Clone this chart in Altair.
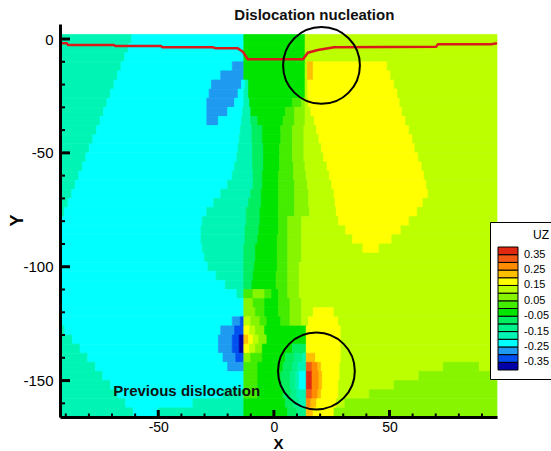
import altair as alt
import pandas as pd

# ---- colour levels (UZ contour bands) ----
LEVEL_VALUES = [-0.375, -0.325, -0.275, -0.225, -0.175, -0.125, -0.075, -0.025,
                0.025, 0.075, 0.125, 0.175, 0.225, 0.275, 0.325, 0.375]
LEVEL_COLORS = ["#0000A8", "#0050F0", "#1E9BF0", "#00FFFF", "#00F5B5", "#00F28A",
                "#00EE60", "#00E400", "#44EC00", "#88F500", "#BBFF00", "#FFFF00",
                "#FFBE00", "#FF8C00", "#F25A14", "#E02810"]

# ---- field: per row (centre y, 4 units tall), runs of (x start, level) ----
ROW_Y = [0, -4, -8, -12, -16, -20, -24, -28, -32, -36, -40, -44, -48, -52, -56, -60,
         -64, -68, -72, -76, -80, -84, -88, -92, -96, -100, -104, -108, -112, -116,
         -120, -124, -128, -132, -136, -140, -144, -148, -152, -156, -160, -164]
ROW_RUNS = [
    [(-92.5, 4), (-61.5, 3), (-13, 7), (13.5, 10)],
    [(-92.5, 4), (-63, 3), (-13, 7), (13.5, 10)],
    [(-92.5, 4), (-64.5, 3), (-13, 7), (13.5, 10)],
    [(-92.5, 4), (-66.1, 3), (-18, 2), (-13, 7), (13.5, 10), (14.5, 12), (17, 11), (49, 10)],
    [(-92.5, 4), (-67.6, 3), (-23, 2), (-13, 7), (13.5, 10), (14.5, 12), (17, 11), (50.5, 10)],
    [(-92.5, 4), (-69.1, 3), (-27, 2), (-14, 3), (-12.5, 4), (-11, 7), (13.5, 10), (14.7, 11), (52, 10)],
    [(-92.5, 4), (-70.7, 3), (-28, 2), (-15.5, 3), (-13, 4), (-11, 7), (13.5, 10), (14.7, 11), (53.5, 10)],
    [(-92.5, 4), (-72.2, 3), (-29, 2), (-17, 3), (-13, 4), (-10.5, 7), (8, 8), (12, 9), (13.5, 10), (15, 11), (54.5, 10)],
    [(-92.5, 4), (-73.7, 3), (-29, 2), (-20, 3), (-13.5, 4), (-10, 7), (5, 8), (9, 9), (13.5, 10), (16, 11), (55.5, 10)],
    [(-92.5, 4), (-75.2, 3), (-29, 2), (-24, 3), (-14, 4), (-10, 6), (-7, 7), (4, 8), (9, 9), (13.5, 10), (17.5, 11), (57, 10)],
    [(-92.5, 4), (-76.7, 3), (-14.5, 4), (-9.5, 6), (-5, 7), (3, 8), (8, 9), (13, 10), (18.5, 11), (58.5, 10)],
    [(-92.5, 4), (-78.3, 3), (-15, 4), (-9.5, 6), (-5, 7), (3, 8), (8, 9), (13, 10), (19.5, 11), (60, 10)],
    [(-92.5, 4), (-79.8, 3), (-15.5, 4), (-9.3, 6), (-4.5, 7), (2.5, 8), (8, 9), (13, 10), (20.5, 11), (61, 10)],
    [(-92.5, 4), (-81.3, 3), (-16, 4), (-9.3, 6), (-4.5, 7), (2.5, 8), (8, 9), (13, 10), (21.5, 11), (62.5, 10)],
    [(-92.5, 4), (-82.8, 3), (-17, 4), (-9.2, 6), (-4.5, 7), (2.5, 8), (8.5, 9), (13.5, 10), (23, 11), (64, 10)],
    [(-92.5, 4), (-84.4, 3), (-18, 4), (-9, 6), (-5, 7), (2, 8), (8.5, 9), (14, 10), (24, 11), (65, 10)],
    [(-92.5, 4), (-85.9, 3), (-20, 4), (-9, 6), (-5, 7), (2, 8), (9, 9), (14.5, 10), (25, 11), (66, 10)],
    [(-92.5, 4), (-87.4, 3), (-23, 4), (-10, 6), (-5.5, 7), (2, 8), (9, 9), (15, 10), (26, 11), (66.7, 10)],
    [(-92.5, 4), (-89, 3), (-26, 4), (-11, 6), (-5.5, 7), (2, 8), (9, 9), (15, 10), (26.5, 11), (64.5, 10)],
    [(-92.5, 4), (-90.5, 3), (-29, 4), (-12, 6), (-6, 7), (2, 8), (9, 9), (15.5, 10), (27, 11), (62, 10)],
    [(-92.5, 3), (-31, 4), (-12, 6), (-6, 7), (2, 8), (6, 9), (12, 10), (28, 11), (58.5, 10)],
    [(-92.5, 3), (-31.5, 4), (-12.5, 6), (-6.5, 7), (2, 8), (6, 9), (12, 10), (31, 11), (55, 10)],
    [(-92.5, 3), (-31.5, 4), (-12.5, 6), (-7, 7), (1.5, 8), (6, 9), (12, 10), (34, 11), (51, 10)],
    [(-92.5, 3), (-31, 4), (-13, 6), (-8, 7), (1.5, 8), (6, 9), (12, 10), (38.5, 11), (45.5, 10)],
    [(-92.5, 3), (-30, 4), (-13, 6), (-8, 7), (1.5, 8), (6, 9), (12, 10)],
    [(-92.5, 3), (-28.5, 4), (-13, 6), (-8.5, 7), (1.5, 8), (6, 9), (11, 10)],
    [(-92.5, 3), (-25, 4), (-13, 6), (-9, 7), (1, 8), (6, 9), (11, 10)],
    [(-92.5, 3), (-21, 4), (-13, 6), (-9.5, 7), (1, 8), (6, 9), (11, 10)],
    [(-92.5, 3), (-16, 4), (-13, 8), (-9, 9), (-4, 8), (-1, 7), (2, 8), (6, 9), (11, 10)],
    [(-92.5, 3), (-13, 9), (-9, 8), (-4, 7), (2, 8), (7, 9), (12, 10)],
    [(-92.5, 3), (-13, 9), (-8, 8), (-4, 7), (2, 8), (7, 9), (12, 10), (17, 11), (26, 10)],
    [(-92.5, 3), (-18, 2), (-14.5, 1), (-13, 10), (-10, 9), (-6, 8), (-3, 7), (3, 8), (7, 9), (12, 10), (15, 11), (28, 10)],
    [(-92.5, 4), (-90.4, 3), (-23, 2), (-17, 1), (-13, 11), (-10.5, 10), (-8, 9), (-4, 7), (14, 11), (29, 10)],
    [(-92.5, 4), (-87.1, 3), (-24, 2), (-18, 1), (-15, 0), (-13, 12), (-11, 11), (-9, 10), (-6.5, 9), (-3, 7), (14, 11), (29, 10)],
    [(-92.5, 4), (-83.8, 3), (-24, 2), (-18, 1), (-15, 0), (-13, 11), (-10.5, 10), (-8, 9), (-5, 7), (8, 6), (14, 11), (29, 10)],
    [(-92.5, 4), (-80.5, 3), (-22, 2), (-16.5, 1), (-13, 9), (-10, 8), (-5, 7), (5, 6), (9, 5), (12.5, 4), (14, 12), (18, 11), (29, 10)],
    [(-92.5, 4), (-77.2, 3), (-20, 2), (-13, 8), (-7, 7), (4, 6), (8, 5), (10.5, 4), (14, 14), (16.5, 13), (19, 12), (20.5, 11), (28.5, 10), (73.3, 9), (88.8, 10)],
    [(-92.5, 4), (-74, 3), (-13, 8), (-7, 7), (3, 6), (7, 5), (9.5, 4), (11, 3), (14, 15), (16.5, 13), (19.5, 12), (21, 11), (28.5, 10), (62.7, 9), (93.6, 10)],
    [(-92.5, 4), (-70.7, 3), (-13, 8), (-7, 7), (3, 6), (7, 5), (9.5, 4), (11, 3), (14, 15), (16.5, 13), (19.5, 12), (21, 11), (28, 10), (52, 9)],
    [(-92.5, 4), (-67.4, 3), (-22, 4), (-13, 8), (-7, 7), (4, 6), (7.5, 5), (10, 4), (14, 14), (16.5, 13), (19, 12), (20.5, 11), (28, 10), (41.3, 9)],
    [(-92.5, 4), (-64.1, 3), (-35, 4), (-13, 7), (5, 6), (8.5, 5), (11, 4), (14, 13), (16, 12), (18.5, 11), (27, 10), (30.7, 9)],
    [(-92.5, 4), (-60.8, 3), (-50, 4), (-13, 7), (6, 6), (10, 5), (14, 12), (17, 11), (26, 9)],
]
X_MIN, X_MAX = -92.5, 96.5
Y_MIN, Y_MAX = -166, 6.6
ROW_HALF = 2

# ---- free surface (red line) ----
SURF_X = [-92.5, -89.5, -89, -69.3, -68.4, -48.9, -48.1, -26.4, -25.1, -15.6, -13.4,
          -11.3, 12.6, 14.7, 19, 26, 70.1, 71, 94, 96.5]
SURF_Y = [-1.9, -1.9, -2.6, -2.6, -3.1, -3.1, -3.6, -3.6, -4.1, -4.1, -5.6,
          -8.9, -8.9, -6.0, -4.8, -3.6, -3.4, -2.3, -2.3, -1.9]

# ---- annotations ----
CIRCLE_X = [20.6, 18.4]
CIRCLE_Y = [-11.6, -145.8]
NOTE_TEXT = ["Dislocation nucleation", "Previous dislocation"]
NOTE_X = [17.5, -37.7]
NOTE_Y = [10.5, -154.8]

# ---- inward ticks ----
X_MAJOR = [-50, 0, 50]
X_MINOR = [-90, -80, -70, -60, -40, -30, -20, -10, 10, 20, 30, 40, 60, 70, 80, 90]
Y_MAJOR = [0, -50, -100, -150]
Y_MINOR = [-10, -20, -30, -40, -60, -70, -80, -90, -110, -120, -130, -140, -160]

W, H = 437, 393

recs = []
for yc, runs in zip(ROW_Y, ROW_RUNS):
    for k, (x0, lvl) in enumerate(runs):
        x1 = runs[k + 1][0] if k + 1 < len(runs) else X_MAX
        recs.append({"x": x0, "x2": x1, "y": yc + ROW_HALF, "y2": yc - ROW_HALF,
                     "v": LEVEL_VALUES[lvl]})
field_df = pd.DataFrame(recs)
surf_df = pd.DataFrame({"x": SURF_X, "y": SURF_Y, "i": list(range(len(SURF_X)))})
circ_df = pd.DataFrame({"x": CIRCLE_X, "y": CIRCLE_Y})
note_df = pd.DataFrame({"x": NOTE_X, "y": NOTE_Y, "t": NOTE_TEXT})

xs = alt.Scale(domain=[X_MIN, X_MAX], nice=False, zero=False)
ys = alt.Scale(domain=[Y_MIN, Y_MAX], nice=False, zero=False)
cscale = alt.Scale(type="quantize", domain=[-0.4, 0.4], range=LEVEL_COLORS, nice=False, zero=False)

FONT = "Liberation Sans"

xaxis = alt.Axis(values=X_MAJOR, labelExpr="datum.value + ''", ticks=False, tickSize=0,
                 labelPadding=3, labelFontSize=14, grid=False, zindex=1, title="X",
                 titleX=218, titleY=26.5,
                 titleBaseline="middle", titleAlign="center", titleFontSize=15)
yaxis = alt.Axis(values=Y_MAJOR, labelExpr="datum.value + ''", ticks=False, tickSize=0,
                 labelPadding=7, grid=False, zindex=1, title="Y", titleX=-43, titleY=196,
                 titleBaseline="middle", titleAlign="center", titleAngle=-90, titleFontSize=18)

legend = alt.Legend(type="gradient", orient="none", legendX=430, legendY=198,
                    direction="vertical", gradientLength=123, gradientThickness=20,
                    labelOverlap=False,
                    labelExpr="abs(round(datum.value * 100)) % 10 == 5 ? "
                              "((datum.value < 0 ? '-' : '') + format(abs(datum.value), '.2f')) : ''",
                    labelFontSize=11, titleFontSize=12, titleFontWeight="normal",
                    titleAnchor="end", titlePadding=5, labelOffset=6, padding=8,
                    gradientStrokeColor="black", gradientStrokeWidth=1)

field = alt.Chart(field_df).mark_rect(strokeWidth=0.7).encode(
    x=alt.X("x:Q", scale=xs, axis=xaxis),
    x2="x2:Q",
    y=alt.Y("y:Q", scale=ys, axis=yaxis),
    y2="y2:Q",
    color=alt.Color("v:Q", scale=cscale, legend=legend, title="UZ"),
    stroke=alt.Stroke("v:Q", scale=cscale, legend=None),
)

cover = alt.Chart(surf_df).mark_area(color="white").encode(
    x=alt.X("x:Q", scale=xs), y=alt.Y("y:Q", scale=ys), y2=alt.datum(3), order="i:Q")

surface = alt.Chart(surf_df).mark_line(color="#D81A1A", strokeWidth=2.5).encode(
    x=alt.X("x:Q", scale=xs), y=alt.Y("y:Q", scale=ys), order="i:Q")

circles = alt.Chart(circ_df).mark_point(shape="circle", filled=False, size=5900,
                                        color="black", strokeWidth=2, opacity=1).encode(
    x=alt.X("x:Q", scale=xs), y=alt.Y("y:Q", scale=ys))

notes = alt.Chart(note_df).mark_text(font=FONT, fontSize=15, fontWeight="bold",
                                     color="#111111").encode(
    x=alt.X("x:Q", scale=xs), y=alt.Y("y:Q", scale=ys), text="t:N")

ymaj = alt.Chart(pd.DataFrame({"y": Y_MAJOR})).mark_rule(color="black", strokeWidth=3).encode(
    y=alt.Y("y:Q", scale=ys), x=alt.value(0), x2=alt.value(10))
ymin = alt.Chart(pd.DataFrame({"y": Y_MINOR})).mark_rule(color="black", strokeWidth=2).encode(
    y=alt.Y("y:Q", scale=ys), x=alt.value(0), x2=alt.value(5))
xmaj = alt.Chart(pd.DataFrame({"x": X_MAJOR})).mark_rule(color="black", strokeWidth=3).encode(
    x=alt.X("x:Q", scale=xs), y=alt.value(H), y2=alt.value(H - 7))
xmin = alt.Chart(pd.DataFrame({"x": X_MINOR})).mark_rule(color="black", strokeWidth=2).encode(
    x=alt.X("x:Q", scale=xs), y=alt.value(H), y2=alt.value(H - 3.5))

chart = alt.layer(field, cover, surface, circles, notes, ymaj, ymin, xmaj, xmin).properties(
    width=W, height=H,
    autosize=alt.AutoSizeParams(type="none"),
    padding={"left": 60, "top": 24, "right": 54, "bottom": 34},
    background="white",
).configure_view(stroke=None).configure_axis(
    labelFont=FONT, labelFontSize=15, labelColor="black",
    titleFont=FONT, titleFontWeight="bold", titleColor="black",
    domainColor="black", domainWidth=3,
).configure_legend(
    labelFont=FONT, titleFont=FONT, labelColor="black", titleColor="black",
    strokeColor="black", fillColor="white",
)

chart.save("out.html", embed_options={"renderer": "svg", "actions": False})
